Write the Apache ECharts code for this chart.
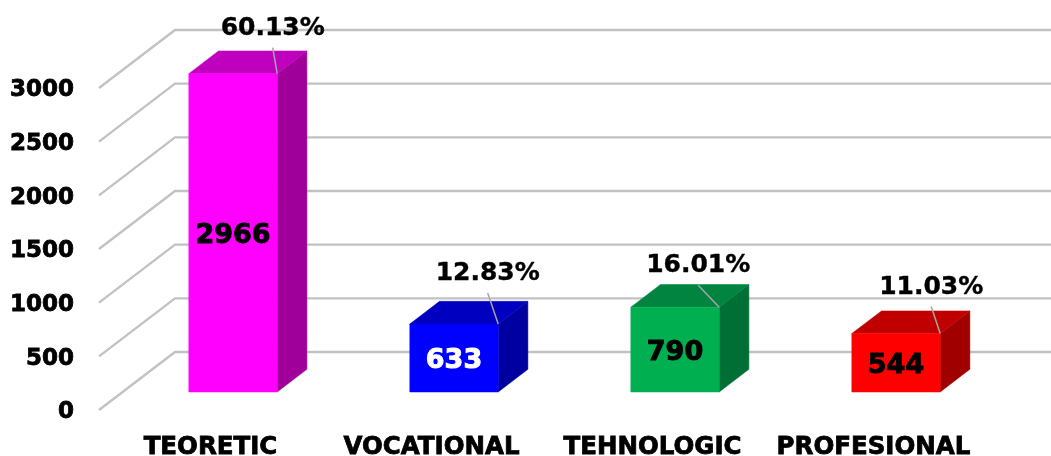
<!DOCTYPE html>
<html>
<head>
<meta charset="utf-8">
<style>html,body{margin:0;padding:0;background:#fff}#c{width:1051px;height:456px}</style>
<script src="https://cdn.jsdelivr.net/npm/echarts@6/dist/echarts.min.js"></script>
</head>
<body>
<div id="c"></div>
<script>
const categories = ['TEORETIC', 'VOCATIONAL', 'TEHNOLOGIC', 'PROFESIONAL'];
const values = [2966, 633, 790, 544];
const percentLabels = ['60.13%', '12.83%', '16.01%', '11.03%'];
const yTicks = [0, 500, 1000, 1500, 2000, 2500, 3000];

const frontColors = ['#FF00FF', '#0000FF', '#00B050', '#FF0000'];
const topColors = ['#C000BF', '#0000C0', '#008440', '#C00000'];
const sideColors = ['#A00099', '#0000A0', '#006F35', '#A00000'];
const valueTextColors = ['#000', '#fff', '#000', '#000'];
// leader-line and percent-label shift from each bar's top-right front corner
const leaderShift = [[-4.5, -26], [-10.5, -31], [-21, -22], [-9, -27]];
const percentRise = 19.5;

const FONT_FAMILY = '"DejaVu Sans"';
const WALL = [76, -58];
const BAR_OFFSET = [23.5, -18];
const BAR_DEPTH = [29.7, -22.7];
const BAR_RATIO = 0.4;

const poly = (pts, fill) => ({
  type: 'polygon', shape: { points: pts },
  style: { fill: fill, stroke: fill, lineWidth: 0.5 }
});

function renderGridline(params, api) {
  const p = api.coord([0, api.value(1)]);
  const band = api.size([1, 0])[0];
  const x0 = p[0] - band / 2;
  const y = p[1];
  const x1 = x0 + band * categories.length;
  return {
    type: 'polyline',
    shape: { points: [[x0, y], [x0 + WALL[0], y + WALL[1]], [x1 + WALL[0], y + WALL[1]]] },
    style: { fill: 'none', stroke: '#C2C2C2', lineWidth: 2.4 }
  };
}

function renderBar(params, api) {
  const i = api.value(0);
  const v = api.value(1);
  const band = api.size([1, 0])[0];
  const w = band * BAR_RATIO;
  const top = api.coord([i, v]);
  const bot = api.coord([i, 0]);
  const l = top[0] + BAR_OFFSET[0] - w / 2;
  const r = l + w;
  const yt = top[1] + BAR_OFFSET[1];
  const yb = bot[1] + BAR_OFFSET[1];
  const dx = BAR_DEPTH[0], dy = BAR_DEPTH[1];
  const s = leaderShift[i];
  return {
    type: 'group',
    children: [
      poly([[r, yb], [r + dx, yb + dy], [r + dx, yt + dy], [r, yt]], sideColors[i]),
      poly([[l, yt], [r, yt], [r + dx, yt + dy], [l + dx, yt + dy]], topColors[i]),
      poly([[l, yt], [r, yt], [r, yb], [l, yb]], frontColors[i]),
      {
        type: 'line',
        shape: { x1: r, y1: yt, x2: r + s[0], y2: yt + s[1] },
        style: { stroke: '#A6A6A6', lineWidth: 1.5 }
      },
      {
        type: 'text', z2: 10,
        style: {
          x: (l + r) / 2, y: (yt + yb) / 2 + 3,
          text: String(v), align: 'center', verticalAlign: 'middle',
          font: 'bold 27px ' + FONT_FAMILY,
          fill: valueTextColors[i], stroke: valueTextColors[i], lineWidth: 1
        }
      },
      {
        type: 'text', z2: 10,
        style: {
          x: r + s[0], y: yt + s[1] - percentRise,
          text: percentLabels[i], align: 'center', verticalAlign: 'middle',
          font: 'bold 25px ' + FONT_FAMILY,
          fill: '#000', stroke: '#000', lineWidth: 0.4
        }
      }
    ]
  };
}

const chart = echarts.init(document.getElementById('c'), null, { renderer: 'canvas' });
chart.setOption({
  animation: false,
  backgroundColor: '#fff',
  grid: { left: 99, top: 88, width: 884, height: 322, containLabel: false, outerBoundsMode: 'none' },
  xAxis: {
    type: 'category', data: categories,
    axisLine: { show: false }, axisTick: { show: false }, splitLine: { show: false },
    axisLabel: {
      margin: 25, color: '#000', fontFamily: FONT_FAMILY, fontWeight: 'bold', fontSize: 24.5,
      interval: 0, hideOverlap: false, verticalAlign: 'top', padding: [0, 0, 0, 2],
      textBorderColor: '#000', textBorderWidth: 0.8
    }
  },
  yAxis: {
    type: 'value', min: 0, max: 3000, interval: 500,
    axisLine: { show: false }, axisTick: { show: false }, splitLine: { show: false },
    axisLabel: {
      margin: 25, color: '#000', fontFamily: FONT_FAMILY, fontWeight: 'bold', fontSize: 23,
      verticalAlign: 'top', padding: [-9, 0, 0, 0],
      textBorderColor: '#000', textBorderWidth: 0.8,
      formatter: v => String(v)
    }
  },
  series: [
    {
      type: 'custom', z: 1, clip: false, silent: true,
      renderItem: renderGridline,
      encode: { x: 0, y: 1 },
      data: yTicks.map(v => [0, v])
    },
    {
      type: 'custom', z: 2, clip: false, silent: true,
      renderItem: renderBar,
      encode: { x: 0, y: 1 },
      data: values.map((v, i) => [i, v])
    }
  ]
});
</script>
</body>
</html>
